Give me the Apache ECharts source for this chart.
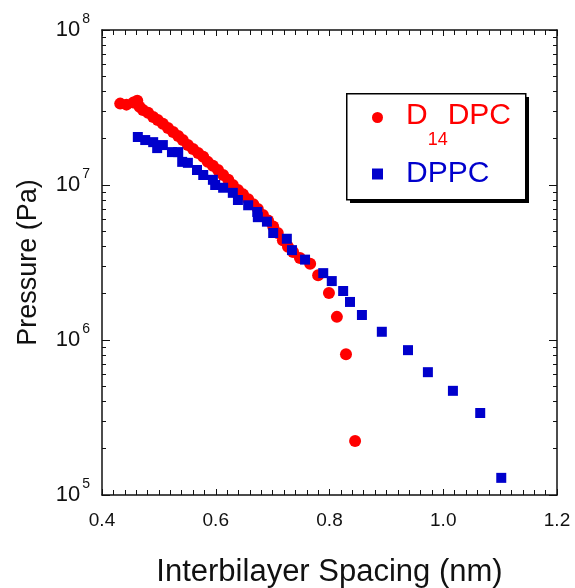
<!DOCTYPE html>
<html>
<head>
<meta charset="utf-8">
<script src="https://cdn.jsdelivr.net/npm/echarts@6/dist/echarts.min.js"></script>
<style>
html,body{margin:0;padding:0;background:#fff;}
#chart{width:575px;height:588px;}
</style>
</head>
<body>
<div id="chart"></div>
<script>
// D14DPC (red circles)
const d14dpcSpacing = [0.432,0.443,0.455,0.462,0.466,0.472,0.481,0.490,0.498,0.507,0.516,0.525,0.534,0.542,0.551,0.560,0.569,0.578,0.586,0.595,0.604,0.613,0.622,0.630,0.639,0.648,0.657,0.666,0.674,0.683,0.692,0.701,0.709,0.718,0.727,0.736,0.748,0.766,0.780,0.799,0.813,0.829,0.845];
const d14dpcPressure = [3.35e7,3.3e7,3.4e7,3.5e7,3.2e7,3.05e7,2.92e7,2.75e7,2.63e7,2.48e7,2.33e7,2.2e7,2.07e7,1.95e7,1.81e7,1.71e7,1.61e7,1.52e7,1.41e7,1.33e7,1.25e7,1.16e7,1.08e7,1.0e7,9.3e6,8.7e6,8.1e6,7.5e6,7.0e6,6.4e6,5.9e6,5.4e6,4.9e6,4.4e6,4.0e6,3.7e6,3.38e6,3.1e6,2.62e6,2.01e6,1.41e6,8.1e5,2.23e5];
// DPPC (blue squares)
const dppcSpacing = [0.463,0.476,0.490,0.497,0.507,0.523,0.534,0.541,0.551,0.567,0.578,0.595,0.599,0.613,0.630,0.639,0.657,0.673,0.674,0.690,0.701,0.725,0.734,0.757,0.789,0.804,0.824,0.836,0.857,0.892,0.938,0.973,1.017,1.065,1.102];
const dppcPressure = [2.04e7,1.95e7,1.89e7,1.73e7,1.81e7,1.63e7,1.63e7,1.41e7,1.39e7,1.25e7,1.16e7,1.08e7,1.0e7,9.6e6,8.9e6,8.0e6,7.4e6,6.7e6,6.2e6,5.8e6,4.9e6,4.5e6,3.8e6,3.3e6,2.7e6,2.4e6,2.07e6,1.76e6,1.45e6,1.13e6,8.6e5,6.2e5,4.7e5,3.38e5,1.29e5];

const xTicks = [0.4,0.6,0.8,1.0,1.2];
const yMajorTicks = [1e5,1e6,1e7,1e8];
const yMinorTicks = [];
[1e5,1e6,1e7].forEach(d => { for (let k = 2; k <= 9; k++) yMinorTicks.push(k*d); });

const seriesNames = ['D14DPC','DPPC'];
const xName = 'Interbilayer Spacing (nm)';
const yName = 'Pressure (Pa)';

const FONT = 'Liberation Sans, Arial, sans-serif';
const AX = '#111';
const RED = '#ff0000';
const BLUE = '#0000cc';

const chart = echarts.init(document.getElementById('chart'), null, {renderer:'canvas'});

function xAxisBase(pos, showLabel){
  return {
    type:'value', position:pos, min:0.4, max:1.2, interval:0.2,
    axisLine:{show:true, onZero:false, lineStyle:{color:AX, width:1.5}},
    axisTick:{show:true, inside:true, length:6, lineStyle:{color:AX, width:1}},
    minorTick:{show:true, splitNumber:10, length:5, lineStyle:{color:AX, width:1}},
    splitLine:{show:false},
    axisLabel:{show:showLabel, color:AX, fontSize:19, fontFamily:FONT, margin:16,
      formatter: v => v.toFixed(1)},
    name: showLabel ? xName : '', nameLocation:'middle', nameGap:62,
    nameTextStyle:{color:AX, fontSize:31, fontFamily:FONT}
  };
}
function yAxisMajor(pos, showLabel){
  return {
    type:'log', logBase:10, position:pos, min:1e5, max:1e8,
    axisLine:{show:true, onZero:false, lineStyle:{color:AX, width:1.5}},
    axisTick:{show:true, inside:true, length:8, lineStyle:{color:AX, width:1}},
    splitLine:{show:false},
    axisLabel:{show:showLabel, color:AX, margin:12, fontFamily:FONT,
      formatter: v => '{b|10}{s|' + Math.round(Math.log10(v)) + '}',
      rich:{ b:{fontSize:22, fontFamily:FONT, color:AX, verticalAlign:'middle', padding:[0,2,0,0]},
             s:{fontSize:14, fontFamily:FONT, color:AX, verticalAlign:'top', padding:[0,0,22,0]} } },
    name: showLabel ? yName : '', nameLocation:'middle', nameGap:60,
    nameTextStyle:{color:AX, fontSize:27, fontFamily:FONT}
  };
}
function yAxisMinor(pos){
  return {
    type:'log', logBase:10, position:pos, min:1e5, max:1e8,
    axisLine:{show:false},
    axisTick:{show:true, inside:true, length:4, customValues:yMinorTicks, lineStyle:{color:AX, width:1}},
    splitLine:{show:false},
    axisLabel:{show:false}
  };
}

chart.setOption({
  backgroundColor:'#ffffff',
  animation:false,
  grid:{left:102, top:30, width:455, height:465, containLabel:false, outerBoundsMode:'none'},
  xAxis:[ xAxisBase('bottom', true), xAxisBase('top', false) ],
  yAxis:[ yAxisMajor('left', true), yAxisMinor('left'), yAxisMajor('right', false), yAxisMinor('right') ],
  graphic:[
    { type:'rect', left:350, top:97, z:1, shape:{width:179, height:106}, style:{fill:'#000'} },
    { type:'rect', left:346, top:93, z:2, shape:{width:179, height:106}, style:{fill:'#fff', stroke:'#000', lineWidth:1.5} }
  ],
  legend:{
    orient:'vertical', left:372, top:101, z:10,
    padding:0, itemGap:10,
    itemWidth:11, itemHeight:11,
    data:[ {name:seriesNames[0], icon:'circle'}, {name:seriesNames[1], icon:'rect'} ],
    formatter: n => n === seriesNames[0] ? '{r|D}{rs|14}{r|DPC}' : '{bl|DPPC}',
    textStyle:{ fontFamily:FONT, padding:[0,0,0,18],
      rich:{
        r:{fontSize:30, color:RED, fontFamily:FONT, verticalAlign:'bottom', padding:[15,0,18,0]},
        rs:{fontSize:18, color:RED, fontFamily:FONT, verticalAlign:'bottom'},
        bl:{fontSize:30, color:BLUE, fontFamily:FONT}
      } }
  },
  series:[
    { name:seriesNames[0], type:'scatter', xAxisIndex:0, yAxisIndex:0,
      symbol:'circle', symbolSize:12, itemStyle:{color:RED, opacity:1},
      data: d14dpcSpacing.map((x,i) => [x, d14dpcPressure[i]]) },
    { name:seriesNames[1], type:'scatter', xAxisIndex:0, yAxisIndex:0,
      symbol:'rect', symbolSize:10, itemStyle:{color:BLUE, opacity:1},
      data: dppcSpacing.map((x,i) => [x, dppcPressure[i]]) }
  ]
});
</script>
</body>
</html>
